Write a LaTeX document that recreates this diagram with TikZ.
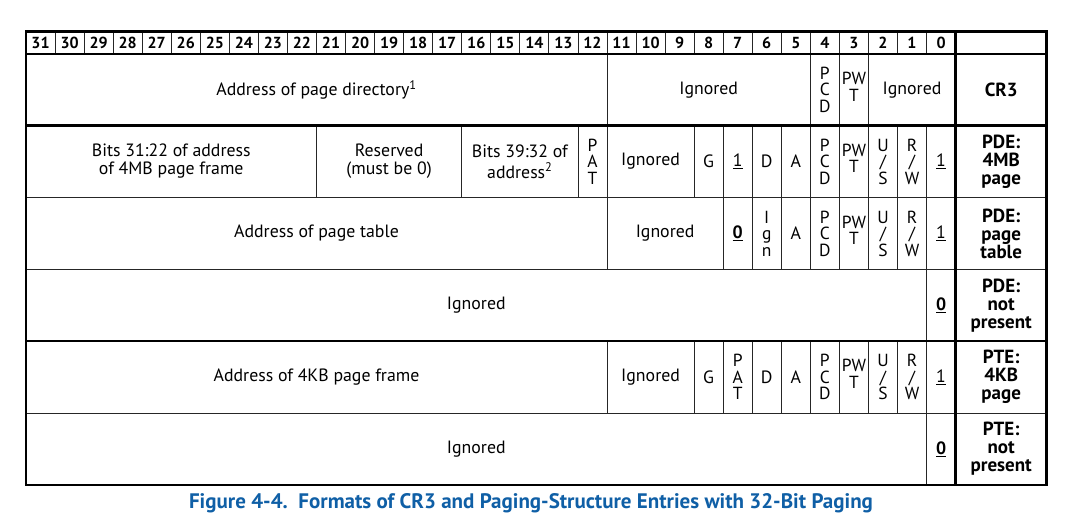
\documentclass[tikz,border=0pt]{standalone}
\usepackage{fontspec}
\setmainfont{PT Sans}
\definecolor{capblue}{HTML}{0F5FA6}
\tikzset{
  cellline/.style={line width=0.9pt, draw=black!85},
  frame/.style={line width=2.6pt, draw=black},
  celltext/.style={font=\fontsize{17.8}{18}\selectfont, align=center, inner sep=0pt},
  vtext/.style={font=\fontsize{17.5}{16.5}\selectfont, align=center, inner sep=0pt},
  pwtext/.style={vtext, yshift=3pt},
  bitnum/.style={font=\bfseries\fontsize{16}{16}\selectfont, inner sep=0pt},
  rowlabel/.style={font=\bfseries\fontsize{19}{18}\selectfont, align=center, inner sep=0pt},
  caption/.style={font=\bfseries\fontsize{21}{22}\selectfont, text=capblue, inner sep=0pt},
}
% #1 style, #2 name, #3 top, #4 bottom, #5 high bit, #6 low bit, #7 text
\newcommand\fld[7]{%
  \pgfmathsetmacro\fldL{26+(31-#5)*29.05}%
  \pgfmathsetmacro\fldR{26+(32-#6)*29.05}%
  \draw[cellline] (\fldL,#3) rectangle (\fldR,#4);%
  \node[#1] (#2) at ({(\fldL+\fldR)/2},{(#3+#4)/2}) {#7};%
}
% row label cell: #1 name, #2 top, #3 bottom, #4 text
\newcommand\rlabel[4]{%
  \draw[cellline] (955.7,#2) rectangle (1046.7,#3);%
  \node[rowlabel] (#1) at (1001.2,{(#2+#3)/2}) {#4};%
}
\begin{document}
\begin{tikzpicture}[x=1pt,y=-1pt]
\useasboundingbox (0,0) rectangle (1074,527);

% header with bit numbers
\foreach \b in {31,...,0} {\fld{bitnum}{h\b}{31.5}{54}{\b}{\b}{\b}}
\draw[cellline] (955.7,31.5) rectangle (1046.7,54);

% CR3
\fld{celltext}{cr3addr}{54}{125.5}{31}{12}{Address of page directory\textsuperscript{1}}
\fld{celltext}{cr3ign1}{54}{125.5}{11}{5}{Ignored}
\fld{vtext}{cr3pcd}{54}{125.5}{4}{4}{P\\C\\D}
\fld{pwtext}{cr3pwt}{54}{125.5}{3}{3}{PW\\T}
\fld{celltext}{cr3ign2}{54}{125.5}{2}{0}{Ignored}
\rlabel{lcr3}{54}{125.5}{CR3}

% PDE: 4MB page
\fld{celltext}{paddr}{125.5}{197.5}{31}{22}{Bits 31:22 of address\\of 4MB page frame}
\fld{celltext}{pres}{125.5}{197.5}{21}{17}{Reserved\\(must be 0)}
\fld{celltext}{phigh}{125.5}{197.5}{16}{13}{Bits 39:32 of\\[3pt]address\textsuperscript{2}}
\fld{vtext}{ppat}{125.5}{197.5}{12}{12}{P\\A\\T}
\fld{celltext}{pign}{125.5}{197.5}{11}{9}{Ignored}
\fld{celltext}{pg}{125.5}{197.5}{8}{8}{G}
\fld{celltext}{pps}{125.5}{197.5}{7}{7}{\underline{1}}
\fld{celltext}{pd}{125.5}{197.5}{6}{6}{D}
\fld{celltext}{pa}{125.5}{197.5}{5}{5}{A}
\fld{vtext}{ppcd}{125.5}{197.5}{4}{4}{P\\C\\D}
\fld{pwtext}{ppwt}{125.5}{197.5}{3}{3}{PW\\T}
\fld{vtext}{pus}{125.5}{197.5}{2}{2}{U\\/\\S}
\fld{vtext}{prw}{125.5}{197.5}{1}{1}{R\\/\\W}
\fld{celltext}{pp}{125.5}{197.5}{0}{0}{\underline{1}}
\rlabel{lpde4m}{125.5}{197.5}{PDE:\\4MB\\page}

% PDE: page table
\fld{celltext}{taddr}{197.5}{269.5}{31}{12}{Address of page table}
\fld{celltext}{tign}{197.5}{269.5}{11}{8}{Ignored}
\fld{celltext}{tps}{197.5}{269.5}{7}{7}{\textbf{\underline{0}}}
\fld{vtext}{tig}{197.5}{269.5}{6}{6}{I\\g\\n}
\fld{celltext}{ta}{197.5}{269.5}{5}{5}{A}
\fld{vtext}{tpcd}{197.5}{269.5}{4}{4}{P\\C\\D}
\fld{pwtext}{tpwt}{197.5}{269.5}{3}{3}{PW\\T}
\fld{vtext}{tus}{197.5}{269.5}{2}{2}{U\\/\\S}
\fld{vtext}{trw}{197.5}{269.5}{1}{1}{R\\/\\W}
\fld{celltext}{tp}{197.5}{269.5}{0}{0}{\underline{1}}
\rlabel{lpdept}{197.5}{269.5}{PDE:\\page\\table}

% PDE: not present
\fld{celltext}{nign}{269.5}{341}{31}{1}{Ignored}
\fld{celltext}{np}{269.5}{341}{0}{0}{\textbf{\underline{0}}}
\rlabel{lpdenp}{269.5}{341}{PDE:\\not\\present}

% PTE: 4KB page
\fld{celltext}{kaddr}{341}{413}{31}{12}{Address of 4KB page frame}
\fld{celltext}{kign}{341}{413}{11}{9}{Ignored}
\fld{celltext}{kg}{341}{413}{8}{8}{G}
\fld{vtext}{kpat}{341}{413}{7}{7}{P\\A\\T}
\fld{celltext}{kd}{341}{413}{6}{6}{D}
\fld{celltext}{ka}{341}{413}{5}{5}{A}
\fld{vtext}{kpcd}{341}{413}{4}{4}{P\\C\\D}
\fld{pwtext}{kpwt}{341}{413}{3}{3}{PW\\T}
\fld{vtext}{kus}{341}{413}{2}{2}{U\\/\\S}
\fld{vtext}{krw}{341}{413}{1}{1}{R\\/\\W}
\fld{celltext}{kp}{341}{413}{0}{0}{\underline{1}}
\rlabel{lpte4k}{341}{413}{PTE:\\4KB\\page}

% PTE: not present
\fld{celltext}{eign}{413}{485}{31}{1}{Ignored}
\fld{celltext}{ep}{413}{485}{0}{0}{\textbf{\underline{0}}}
\rlabel{lptenp}{413}{485}{PTE:\\not\\present}

% heavy rules: outer frame, label column and group separators
\draw[frame] (26,31.5) rectangle (1046.7,485);
\draw[frame] (955.7,31.5) -- (955.7,485);
\draw[frame] (26,54) -- (1046.7,54);
\draw[frame] (26,125.5) -- (1046.7,125.5);
\draw[frame] (26,341) -- (1046.7,341);

% figure caption
\node[caption] (cap) at (531,503.5) {Figure 4-4.\ \ Formats of CR3 and Paging-Structure Entries with 32-Bit Paging};
\end{tikzpicture}
\end{document}
